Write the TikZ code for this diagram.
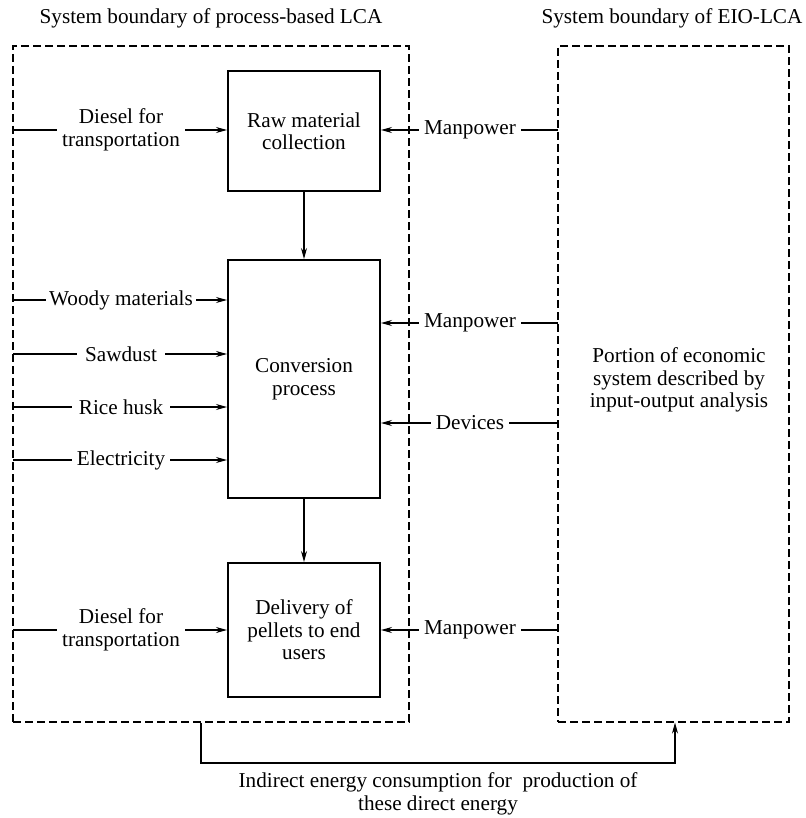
\documentclass[tikz,border=0pt]{standalone}
\usepackage{fontspec}
\setmainfont{Liberation Serif}
\usetikzlibrary{arrows.meta}
\begin{document}
\begin{tikzpicture}[x=1pt,y=-1pt,
  every node/.style={font=\fontsize{21.2}{22.5}\selectfont, align=center},
  box/.style={draw, line width=2pt, minimum width=152pt, inner sep=0pt},
  bound/.style={draw, line width=1.1pt, dash pattern=on 8pt off 4pt, inner sep=0pt},
  lab/.style={inner xsep=5pt, inner ysep=0pt},
  ln/.style={line width=1.1pt},
  arr/.style={line width=1.1pt, -{Stealth[length=11pt,width=6pt]}}]
\useasboundingbox (0,0) rectangle (805,818);
% boundaries
\node[bound, minimum width=396pt, minimum height=676pt] (lca) at (211,384) {};
\node[bound, minimum width=231pt, minimum height=676pt] (eio) at (673.5,384) {};
\node (t1) at (211,18) {System boundary of process-based LCA};
\node (t2) at (672,18) {System boundary of EIO-LCA};
% process boxes
\node[box, minimum height=120pt] (raw) at (304,131) {Raw material\\collection};
\node[box, minimum height=238pt] (conv) at (304,379) {Conversion\\process};
\node[box, minimum height=134pt] (del) at (304,630) {Delivery of\\pellets to end\\users};
\draw[arr] (raw) -- (conv);
\draw[arr] (conv) -- (del);
% left inputs
\coordinate (l1) at (13,130);
\coordinate (l2) at (13,300);
\coordinate (l3) at (13,354);
\coordinate (l4) at (13,407);
\coordinate (l5) at (13,460);
\coordinate (l6) at (13,630);
\node[lab] (in1) at (121,130) {Diesel for\\transportation};
\node[lab, inner xsep=3pt] (in2) at (121,300) {Woody materials};
\node[lab, inner xsep=8pt] (in3) at (121,354) {Sawdust};
\node[lab, inner xsep=7pt] (in4) at (121,407) {Rice husk};
\node[lab] (in5) at (121,460) {Electricity};
\node[lab] (in6) at (121,630) {Diesel for\\transportation};
\draw[ln] (l1) -- (in1); \draw[arr] (in1) -- (raw.west |- in1);
\draw[ln] (l2) -- (in2); \draw[arr] (in2) -- (conv.west |- in2);
\draw[ln] (l3) -- (in3); \draw[arr] (in3) -- (conv.west |- in3);
\draw[ln] (l4) -- (in4); \draw[arr] (in4) -- (conv.west |- in4);
\draw[ln] (l5) -- (in5); \draw[arr] (in5) -- (conv.west |- in5);
\draw[ln] (l6) -- (in6); \draw[arr] (in6) -- (del.west |- in6);
% right inputs
\coordinate (r1) at (558,130);
\coordinate (r2) at (558,323);
\coordinate (r3) at (558,423);
\coordinate (r4) at (558,630);
\node[lab] (m1) at (470,130) {Manpower};
\node[lab] (m2) at (470,323) {Manpower};
\node[lab] (m3) at (470,423) {Devices};
\node[lab] (m4) at (470,630) {Manpower};
\draw[ln] (r1) -- (m1); \draw[arr] (m1) -- (raw.east |- m1);
\draw[ln] (r2) -- (m2); \draw[arr] (m2) -- (conv.east |- m2);
\draw[ln] (r3) -- (m3); \draw[arr] (m3) -- (conv.east |- m3);
\draw[ln] (r4) -- (m4); \draw[arr] (m4) -- (del.east |- m4);
% EIO text
\node (eiot) at (679,380) {Portion of economic\\system described by\\input-output analysis};
% bottom connector
\coordinate (bl) at (lca.south -| 201,0);
\coordinate (br) at (eio.south -| 675,0);
\coordinate (bm) at (438,763);
\draw[arr] (bl) |- (bm) -| (br);
\node (bt) at (438,794) {Indirect energy consumption for \ production of\\these direct energy};
\end{tikzpicture}
\end{document}
